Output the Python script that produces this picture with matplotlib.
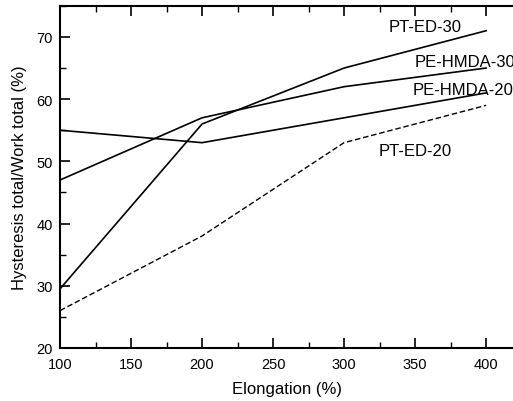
import matplotlib.pyplot as plt
from matplotlib.ticker import MultipleLocator

plt.rcParams['font.family'] = ['Liberation Sans', 'DejaVu Sans']

# Data
elongation = [100, 200, 300, 400]
pt_ed_30 = [29.5, 56, 65, 71]
pe_hmda_30 = [47, 57, 62, 65]
pe_hmda_20 = [55, 53, 57, 61]
pt_ed_20 = [26, 38, 53, 59]

labels = ['PT-ED-30', 'PE-HMDA-30', 'PE-HMDA-20', 'PT-ED-20']
label_x = [331, 350, 348, 324]
label_y = [71.6, 66.1, 61.6, 51.7]

fig = plt.figure(figsize=(5.13, 4.02), dpi=100)
ax = fig.add_axes([0.117, 0.132, 0.886, 0.851])

ax.plot(elongation, pt_ed_30, color='black', lw=1.2)
ax.plot(elongation, pe_hmda_30, color='black', lw=1.2)
ax.plot(elongation, pe_hmda_20, color='black', lw=1.2)
ax.plot(elongation, pt_ed_20, color='black', lw=1.0, ls=(0, (4, 2)))

for txt, x, y in zip(labels, label_x, label_y):
    ax.text(x, y, txt, fontsize=12, va='center', ha='left', clip_on=False)

ax.set_xlim(100, 420)
ax.set_ylim(20, 75)
ax.xaxis.set_major_locator(MultipleLocator(50))
ax.xaxis.set_minor_locator(MultipleLocator(25))
ax.yaxis.set_major_locator(MultipleLocator(10))
ax.yaxis.set_minor_locator(MultipleLocator(5))
ax.tick_params(which='both', direction='in', top=True, right=False, labelsize=10.5)
ax.tick_params(which='major', length=7, width=1.2)
ax.tick_params(which='minor', length=4, width=1.0)
ax.tick_params(axis='x', which='major', pad=6.5)
ax.tick_params(axis='y', which='major', pad=5)
for s in ['left', 'bottom', 'top']:
    ax.spines[s].set_linewidth(1.5)
ax.spines['right'].set_visible(False)

ax.set_xlabel('Elongation (%)', fontsize=12, labelpad=7)
ax.set_ylabel('Hysteresis total/Work total (%)', fontsize=12, labelpad=7)

fig.savefig('out.png', dpi=100)
